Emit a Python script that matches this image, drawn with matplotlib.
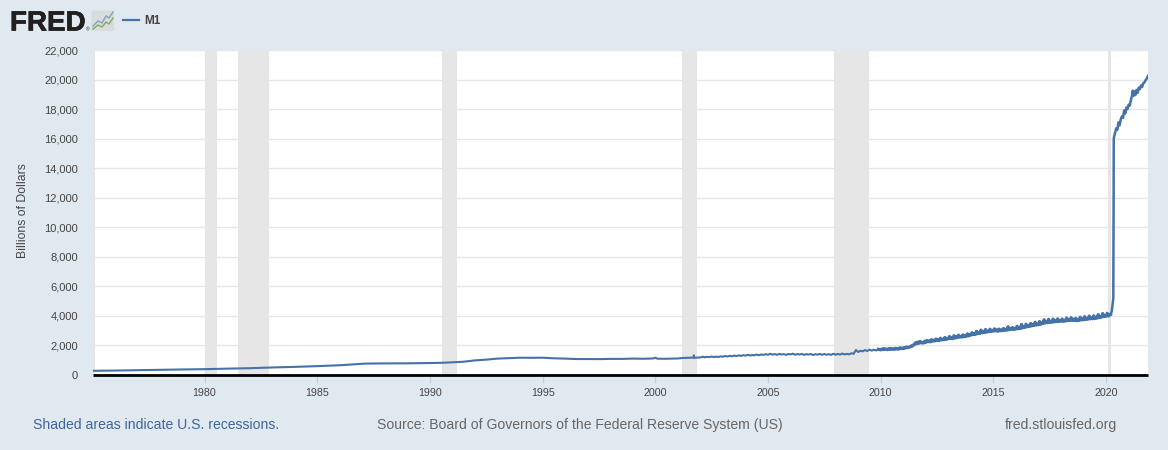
import matplotlib
matplotlib.use("Agg")
import matplotlib.pyplot as plt
import matplotlib.patheffects as pe
from matplotlib.lines import Line2D
from matplotlib.patches import FancyBboxPatch

plt.rcParams["font.family"] = ["Liberation Sans", "DejaVu Sans"]

# values
years_a = [1975.05, 1976, 1977, 1978, 1979, 1980, 1981, 1982, 1983, 1984, 1985, 1986, 1986.9, 1987.1, 1988, 1989,
           1990, 1990.5, 1991, 1991.5, 1992, 1992.5, 1993, 1993.5, 1994, 1994.5, 1995, 1995.5, 1996, 1996.5, 1997,
           1997.5, 1998, 1998.5, 1999, 1999.5, 1999.9, 2000, 2000.1, 2000.5, 2001, 2001.2, 2001.7, 2001.71, 2001.73]
m1_a = [285, 300, 325, 350, 375, 395, 430, 460, 510, 550, 600, 660, 750, 770, 785, 790,
        810, 825, 860, 900, 990, 1040, 1110, 1140, 1170, 1165, 1170, 1130, 1110, 1080, 1080,
        1075, 1090, 1090, 1110, 1100, 1120, 1170, 1100, 1100, 1120, 1150, 1180, 1330, 1170]

# 2002 to 2009 every 0.1 year
years_n = [2002 + i / 10 for i in range(80)]
m1_n = [1190, 1240, 1200, 1230, 1210, 1250, 1215, 1240, 1225, 1260,
        1240, 1285, 1250, 1300, 1265, 1320, 1275, 1330, 1290, 1345,
        1310, 1365, 1320, 1350, 1335, 1385, 1340, 1395, 1360, 1410,
        1370, 1440, 1375, 1420, 1365, 1430, 1385, 1415, 1360, 1425,
        1390, 1445, 1370, 1420, 1385, 1430, 1360, 1415, 1380, 1425,
        1350, 1410, 1375, 1430, 1365, 1420, 1370, 1410, 1360, 1440,
        1375, 1425, 1385, 1450, 1395, 1430, 1400, 1470, 1440, 1690,
        1560, 1640, 1600, 1690, 1620, 1720, 1650, 1710, 1660, 1740]

# 2010 to 2020.2 every 0.05 year
years_b = [2010 + i / 20 for i in range(205)]
m1_b = [1700, 1760, 1720, 1790, 1740, 1750, 1710, 1780, 1735, 1800,
        1745, 1770, 1730, 1810, 1760, 1790, 1750, 1840, 1780, 1820,
        1790, 1850, 1830, 1900, 1850, 1880, 1900, 1960, 1950, 2040,
        2060, 2190, 2120, 2230, 2150, 2280, 2170, 2200, 2160, 2290,
        2210, 2340, 2250, 2300, 2240, 2400, 2290, 2350, 2300, 2440,
        2330, 2380, 2340, 2490, 2370, 2420, 2390, 2540, 2410, 2470,
        2450, 2610, 2470, 2520, 2460, 2660, 2500, 2590, 2530, 2700,
        2560, 2620, 2570, 2720, 2590, 2660, 2620, 2790, 2650, 2720,
        2700, 2870, 2730, 2800, 2740, 2960, 2790, 2860, 2810, 3040,
        2850, 2920, 2870, 3080, 2900, 2960, 2930, 3100, 2950, 3020,
        2970, 3130, 2980, 3050, 2960, 3110, 2990, 3040, 3000, 3150,
        3020, 3090, 3040, 3270, 3060, 3130, 3090, 3220, 3080, 3150,
        3110, 3300, 3130, 3200, 3150, 3430, 3190, 3260, 3220, 3440,
        3260, 3330, 3280, 3490, 3320, 3400, 3350, 3570, 3380, 3440,
        3400, 3620, 3430, 3520, 3480, 3740, 3520, 3580, 3540, 3770,
        3560, 3620, 3570, 3790, 3590, 3660, 3610, 3800, 3620, 3690,
        3640, 3790, 3630, 3700, 3650, 3860, 3680, 3740, 3690, 3880,
        3700, 3770, 3690, 3840, 3670, 3750, 3700, 3910, 3720, 3790,
        3740, 3950, 3760, 3820, 3780, 3990, 3800, 3860, 3810, 4010,
        3820, 3900, 3850, 4090, 3880, 3950, 3920, 4160, 3950, 4020,
        3980, 4180, 3990, 4060, 4100]

years_c = [2020.25, 2020.29, 2020.32, 2020.335, 2020.34, 2020.35, 2020.4, 2020.45, 2020.5, 2020.55, 2020.6, 2020.65,
           2020.7, 2020.75, 2020.8, 2020.85, 2020.9, 2020.95, 2021, 2021.05, 2021.1, 2021.15, 2021.18,
           2021.22, 2021.26, 2021.3, 2021.35, 2021.4, 2021.45, 2021.5, 2021.55, 2021.6, 2021.65, 2021.7, 2021.75,
           2021.8, 2021.86]
m1_c = [4300, 4800, 5200, 12000, 15900, 16100, 16400, 16700, 16600, 17100, 16900, 17300,
        17500, 17400, 17900, 17700, 18100, 18000, 18300, 18250, 18600, 18900, 19250,
        18900, 19200, 18950, 19300, 19100, 19450, 19350, 19600, 19500, 19750, 19800, 19950,
        20050, 20250]

recessions = [(1975.05, 1975.14), (1980.0, 1980.53), (1981.5, 1982.85), (1990.55, 1991.2), (2001.2, 2001.87),
              (2007.95, 2009.46), (2020.09, 2020.24)]
yticks = list(range(0, 22001, 2000))
xticks = list(range(1980, 2021, 5))

W, H = 1168, 450
bg = "#e1e9f0"
blue = "#4572a7"
gray = "#666666"
fig = plt.figure(figsize=(W / 100, H / 100), dpi=100, facecolor=bg)


def fx(px):
    return px / W


def fy(py):
    return 1 - py / H


ax = fig.add_axes([fx(93), fy(375), fx(1148 - 93), 325 / H])
ax.set_xlim(1975.05, 2021.86)
ax.set_ylim(0, 22000)
ax.set_facecolor("white")
for a, b in recessions:
    ax.axvspan(a, b, color="#e6e6e6", lw=0, zorder=1)
ax.grid(axis="y", color="#e6e6e6", lw=1, zorder=0)
ax.set_axisbelow(True)
# the weekly noise makes the line look thicker from 2010 on
ax.plot(years_a + years_n, m1_a + m1_n, color=blue, lw=1.5, zorder=3)
ax.plot(years_n[-1:] + years_b, m1_n[-1:] + m1_b, color=blue, lw=2.3, zorder=3)
ax.plot(years_b[-1:] + years_c, m1_b[-1:] + m1_c, color=blue, lw=1.8, zorder=3)

for s in ["top", "left", "right"]:
    ax.spines[s].set_visible(False)
ax.spines["bottom"].set_color("black")
ax.spines["bottom"].set_linewidth(2)
ax.spines["bottom"].set_capstyle("butt")
ax.spines["bottom"].set_zorder(5)

ax.set_xticks(xticks)
ax.set_yticks(yticks)
ax.set_yticklabels([f"{v:,}" for v in yticks])
ax.tick_params(axis="x", length=5.8, width=1, color="#c0d0e0", labelsize=7.7, labelcolor="#444444", pad=3.5)
ax.tick_params(axis="y", length=0, labelsize=8, labelcolor="#444444", pad=10.8)
ax.set_ylabel("Billions of Dollars", fontsize=8.8, color="#444444")
ax.yaxis.set_label_coords((29 - 93) / (1148 - 93), 0.505)

# header
logo = fig.text(fx(10), fy(30.5), "FRED", fontsize=20, fontweight="bold", color="#231f20", va="baseline", ha="left")
logo.set_path_effects([pe.withStroke(linewidth=0.5, foreground="#231f20")])
fig.text(fx(85.5), fy(31), "®", fontsize=3.5, color="#231f20", va="baseline", ha="left")
fig.add_artist(FancyBboxPatch((fx(92.5), fy(30.5)), fx(20.5), 19.5 / H, boxstyle="round,pad=0.001",
                              transform=fig.transFigure, fc="#d9dcde", ec="none"))
fig.add_artist(Line2D([fx(x) for x in (93, 98, 102, 106, 109, 113)], [fy(y) for y in (26, 21, 23, 16, 18, 12)],
                      color="#7fa3bd", lw=1))
fig.add_artist(Line2D([fx(x) for x in (93, 98, 102, 106, 109, 113)], [fy(y) for y in (29, 25, 27, 22, 24, 18)],
                      color="#86ab5c", lw=1))
fig.add_artist(Line2D([fx(123), fx(139)], [fy(19.5), fy(19.5)], color=blue, lw=1.6))
fig.text(fx(144), fy(24), "M1", fontsize=8.5, fontweight="bold", color="#444444", va="baseline", ha="left")

# footer
fig.text(fx(33), fy(425), "Shaded areas indicate U.S. recessions.", fontsize=10.06, color="#3e659c", va="center")
fig.text(fx(377), fy(425), "Source: Board of Governors of the Federal Reserve System (US)", fontsize=10.06,
         color=gray, va="center")
fig.text(fx(1117), fy(425), "fred.stlouisfed.org", fontsize=10.06, color=gray, va="center", ha="right")

fig.savefig("out.png", dpi=100, facecolor=bg)
